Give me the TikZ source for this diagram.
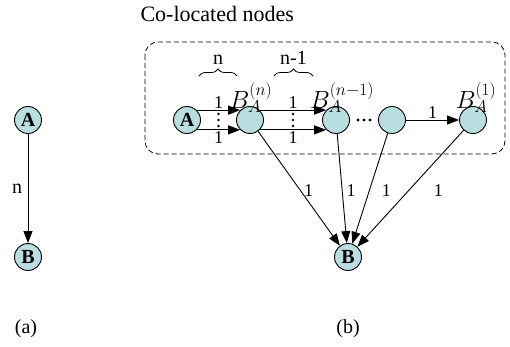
\documentclass[tikz,border=0pt]{standalone}
\usepackage{fontspec}
\setmainfont{Liberation Serif}
\usetikzlibrary{arrows.meta,calc,decorations.pathreplacing}
\definecolor{nodefill}{RGB}{184,222,226}

\tikzset{
  vtx/.style={circle,draw,line width=0.9pt,fill=nodefill,minimum size=27pt,inner sep=0pt,
    font=\fontsize{20}{20}\selectfont\bfseries},
  arr/.style={-{Triangle[length=12pt,width=9pt]},line width=0.9pt},
  lbl/.style={font=\fontsize{18}{18}\selectfont,inner sep=1pt},
  blbl/.style={font=\fontsize{24}{24}\selectfont,inner sep=0pt},
  brc/.style={decorate,decoration={brace,amplitude=7pt},line width=0.8pt},
}

\begin{document}
\begin{tikzpicture}[x=1pt,y=-1pt]
\useasboundingbox (0,0) rectangle (510,347);
% (a)
\node[vtx] (la) at (28,120) {A};
\node[vtx] (lb) at (28,257) {B};
\draw[arr] (la) -- node[left,font=\fontsize{20}{20}\selectfont,xshift=-2pt]{n} (lb);
\node[font=\fontsize{20}{20}\selectfont] (capa) at (26,329) {(a)};
% (b)
\node[font=\fontsize{22}{22}\selectfont,anchor=west] (title) at (137,14) {Co-located nodes};
\draw[dashed,dash pattern=on 5pt off 3pt,rounded corners=13pt,line width=0.8pt] (145,42) rectangle (505,154);
\node[vtx] (ra) at (187,120) {A};
\node[vtx,label={[blbl,xshift=1pt,yshift=-7pt]above:$B_A^{(n)}$}] (bn) at (250,120) {};
\node[vtx,label={[blbl,xshift=6pt,yshift=-7pt]above:$B_A^{(n-1)}$}] (bm) at (336,120) {};
\node[vtx] (bk) at (392,120) {};
\node[vtx,label={[blbl,xshift=3pt,yshift=-7pt]above:$B_A^{(1)}$}] (b1) at (473,120) {};
\node[vtx] (rb) at (348,257) {B};
\node[font=\fontsize{20}{20}\selectfont] (capb) at (348,329) {(b)};
% parallel links
\draw[arr] (ra.45) -- node[lbl,above]{1} (bn.135);
\draw[arr] (ra.-45) -- node[lbl,below]{1} (bn.-135);
\draw[arr] (bn.45) -- node[lbl,above]{1} (bm.135);
\draw[arr] (bn.-45) -- node[lbl,below]{1} (bm.-135);
\foreach \d in {-6,0,6}{
  \fill ($(ra)!0.5!(bn)+(0,\d)$) circle (1.4pt);
  \fill ($(bn)!0.5!(bm)+(0,\d)$) circle (1.4pt);
  \fill ($(bm)!0.5!(bk)+(\d,0)$) circle (1.6pt);
}
\draw[arr] (bk) -- node[lbl,above]{1} (b1);
% braces
\draw[brc] ($(ra.east)+(-2,-44)$) -- node[above=8pt,font=\fontsize{20}{20}\selectfont]{n} ($(bn.west)+(1,-44)$);
\draw[brc] ($(bn.east)+(10,-44)$) -- node[above=8pt,font=\fontsize{20}{20}\selectfont]{n-1} ($(bm.west)+(-9,-44)$);
% links to B
\draw[arr] (bn) -- node[lbl,pos=0.52,xshift=8pt]{1} (rb);
\draw[arr] (bm) -- node[lbl,pos=0.52,xshift=9pt]{1} (rb);
\draw[arr] (bk) -- node[lbl,pos=0.52,xshift=17pt]{1} (rb);
\draw[arr] (b1) -- node[lbl,pos=0.52,xshift=30pt]{1} (rb);
\end{tikzpicture}
\end{document}
